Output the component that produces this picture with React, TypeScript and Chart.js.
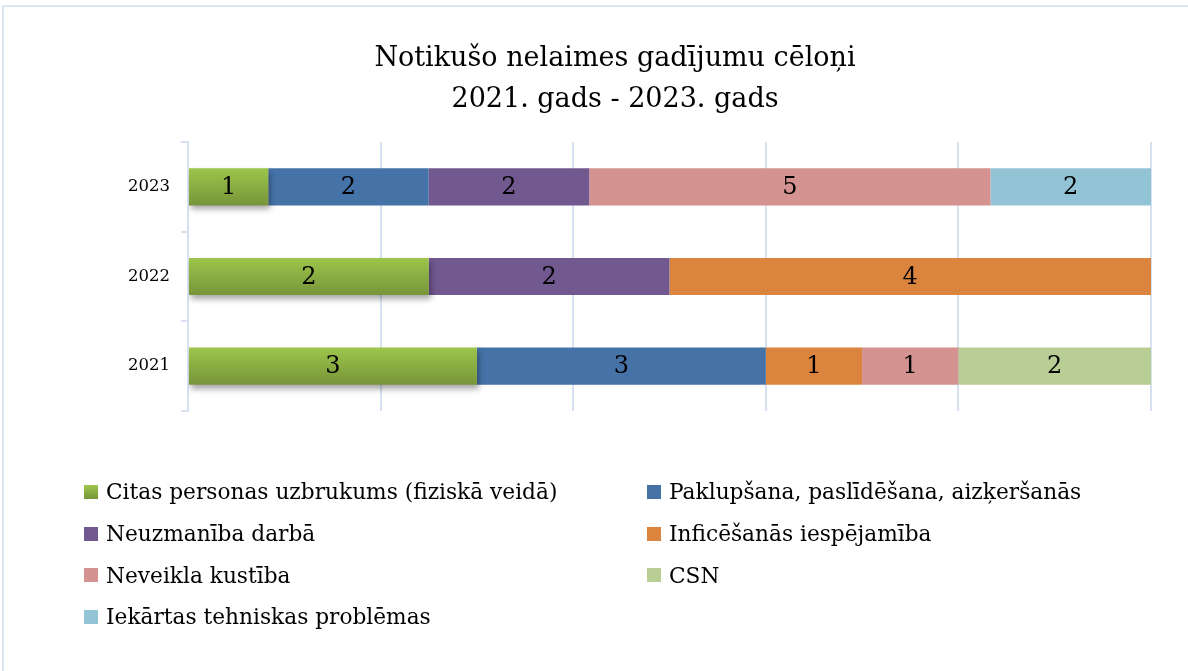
import React, { useEffect, useRef } from "react";
import { Chart, registerables } from "chart.js";

Chart.register(...registerables);

const years: string[] = ["2021", "2022", "2023"];

const seriesNames: string[] = [
  "Citas personas uzbrukums (fiziskā veidā)",
  "Paklupšana, paslīdēšana, aizķeršanās",
  "Neuzmanība darbā",
  "Inficēšanās iespējamība",
  "Neveikla kustība",
  "CSN",
  "Iekārtas tehniskas problēmas",
];

// counts per year, in the order of `years` (2021, 2022, 2023)
const uzbrukums: (number | null)[] = [3, 2, 1];
const paklupsana: (number | null)[] = [3, null, 2];
const neuzmaniba: (number | null)[] = [null, 2, 2];
const inficesanas: (number | null)[] = [1, 4, null];
const neveikla: (number | null)[] = [1, null, 5];
const csn: (number | null)[] = [2, null, null];
const iekartas: (number | null)[] = [null, null, 2];

const seriesValues = [uzbrukums, paklupsana, neuzmaniba, inficesanas, neveikla, csn, iekartas];

const seriesColors: string[] = [
  "#8fb648",
  "#4572a7",
  "#71588f",
  "#db843d",
  "#d49290",
  "#b9ce95",
  "#93c4d5",
];

const xTicks: number[] = [0, 20, 40, 60, 80, 100];

const FONT = "'DejaVu Serif', serif";
const GRID = "#d6e2f1";

export default function App() {
  const ref = useRef<HTMLCanvasElement | null>(null);

  useEffect(() => {
    if (!ref.current) return;
    const totals = years.map((_, i) =>
      seriesValues.reduce((s, arr) => s + (arr[i] ?? 0), 0)
    );

    const greenFill = (ctx: any) => {
      const chart = ctx.chart;
      const y = chart.scales && chart.scales.y;
      if (!y || ctx.type !== "data") return seriesColors[0];
      const c = y.getPixelForValue(ctx.dataIndex);
      if (!isFinite(c)) return seriesColors[0];
      const h = 38;
      const g = chart.ctx.createLinearGradient(0, c - h / 2, 0, c + h / 2);
      g.addColorStop(0, "#9dc64b");
      g.addColorStop(1, "#779439");
      return g;
    };

    const shadowPlugin = {
      id: "greenShadow",
      beforeDatasetDraw(chart: any, args: any) {
        if (args.index !== 0) return;
        const c = chart.ctx;
        c.save();
        c.shadowColor = "rgba(0,0,0,0.35)";
        c.shadowBlur = 6;
        c.shadowOffsetX = 2;
        c.shadowOffsetY = 4;
      },
      afterDatasetDraw(chart: any, args: any) {
        if (args.index !== 0) return;
        chart.ctx.restore();
      },
    };

    const labelPlugin = {
      id: "segLabels",
      afterDatasetsDraw(chart: any) {
        const c = chart.ctx;
        c.save();
        c.font = `24px ${FONT}`;
        c.fillStyle = "#000";
        c.textAlign = "center";
        c.textBaseline = "middle";
        chart.data.datasets.forEach((ds: any, di: number) => {
          const meta = chart.getDatasetMeta(di);
          meta.data.forEach((el: any, i: number) => {
            const v = ds.counts[i];
            if (v == null) return;
            c.fillText(String(v), (el.x + el.base) / 2, el.y + 1);
          });
        });
        c.restore();
      },
    };

    const chart = new Chart(ref.current, {
      type: "bar",
      data: {
        labels: years,
        datasets: seriesNames.map((name, si) => ({
          label: name,
          counts: seriesValues[si],
          data: seriesValues[si].map((v, i) => (v == null ? null : (v / totals[i]) * 100)),
          backgroundColor: si === 0 ? greenFill : seriesColors[si],
          borderWidth: 0,
          barPercentage: 0.415,
          categoryPercentage: 1,
        })) as any,
      },
      options: {
        animation: false,
        responsive: false,
        indexAxis: "y",
        layout: { padding: { left: 79, right: 37, top: 0, bottom: 260 } },
        plugins: {
          legend: { display: false },
          tooltip: { enabled: false },
          title: {
            display: true,
            text: ["Notikušo nelaimes gadījumu cēloņi", "2021. gads - 2023. gads"],
            color: "#000",
            font: { family: FONT, size: 27, weight: "normal", lineHeight: 1.5 },
            padding: { top: 39, bottom: 22 },
          },
        },
        scales: {
          x: {
            stacked: true,
            min: 0,
            max: 100,
            afterBuildTicks: (s: any) => {
              s.ticks = xTicks.map((v) => ({ value: v }));
            },
            afterFit: (s: any) => {
              s.height = 0;
            },
            ticks: { display: false },
            grid: { color: GRID, lineWidth: 2, drawTicks: false },
            border: { display: false },
          },
          y: {
            stacked: true,
            reverse: true,
            afterFit: (s: any) => {
              s.width = 109;
            },
            ticks: {
              color: "#000",
              padding: 11,
              font: { family: FONT, size: 16.5 },
            },
            grid: {
              offset: true,
              drawOnChartArea: false,
              drawTicks: true,
              tickLength: 7,
              color: GRID,
              lineWidth: 2,
            },
            border: { color: GRID, width: 2 },
          },
        },
      } as any,
      plugins: [shadowPlugin, labelPlugin],
    });
    return () => chart.destroy();
  }, []);

  return (
    <div
      style={{
        position: "fixed",
        left: 0,
        top: 0,
        width: 1188,
        height: 671,
        background: "#fff",
        overflow: "hidden",
      }}
    >
      <div
        style={{
          position: "absolute",
          left: 2,
          top: 5,
          width: 1186,
          height: 666,
          borderTop: "2px solid #dce6f2",
          borderLeft: "2px solid #dce6f2",
          boxSizing: "border-box",
        }}
      />
      <canvas ref={ref} width={1188} height={671} style={{ position: "absolute", left: 0, top: 0 }} />
      <div
        style={{
          position: "absolute",
          left: 84,
          top: 471,
          display: "grid",
          gridTemplateColumns: "563px auto",
          gridAutoRows: "41.7px",
          fontFamily: FONT,
          fontSize: 21.7,
          color: "#000",
        }}
      >
        {seriesNames.map((name, i) => (
          <div key={name} style={{ display: "flex", alignItems: "center", whiteSpace: "nowrap" }}>
            <span
              style={{
                display: "inline-block",
                width: 14,
                height: 14,
                marginRight: 8,
                background:
                  i === 0 ? "linear-gradient(#9dc64b, #779439)" : seriesColors[i],
              }}
            />
            <span>{name}</span>
          </div>
        ))}
      </div>
    </div>
  );
}
